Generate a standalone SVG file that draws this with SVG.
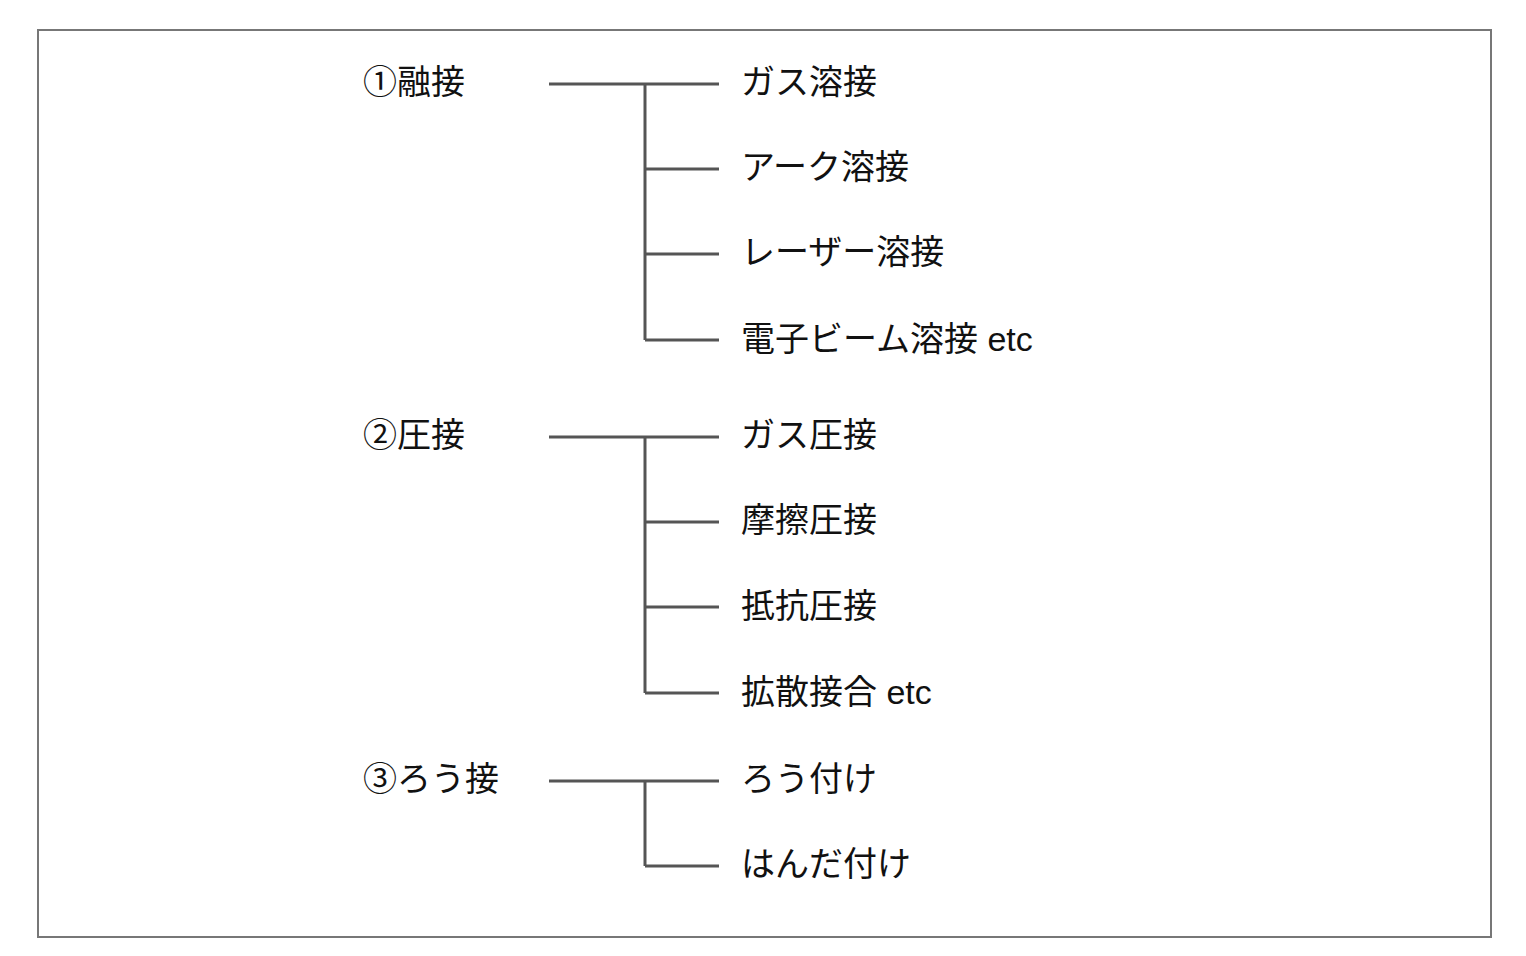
<svg xmlns="http://www.w3.org/2000/svg" width="1526" height="956" viewBox="0 0 1526 956">
<style>
text{font-family:"Liberation Sans","Noto Sans CJK JP",sans-serif;font-size:34px;fill:#111;dominant-baseline:central}
.c line{stroke:#555;stroke-width:3;fill:none}
</style>
<rect x="0" y="0" width="1526" height="956" fill="#fff"/>
<rect x="38" y="30" width="1453" height="907" fill="none" stroke="#777" stroke-width="2"/>
<g class="c" id="connectors">
<line x1="549" y1="84" x2="719" y2="84"/><line x1="645" y1="84" x2="645" y2="340"/>
<line x1="645" y1="169" x2="719" y2="169"/><line x1="645" y1="254" x2="719" y2="254"/><line x1="645" y1="340" x2="719" y2="340"/>
<line x1="549" y1="437" x2="719" y2="437"/><line x1="645" y1="437" x2="645" y2="693"/>
<line x1="645" y1="522" x2="719" y2="522"/><line x1="645" y1="607" x2="719" y2="607"/><line x1="645" y1="693" x2="719" y2="693"/>
<line x1="549" y1="781" x2="719" y2="781"/><line x1="645" y1="781" x2="645" y2="866"/><line x1="645" y1="866" x2="719" y2="866"/>
</g>
<g id="n1"><text x="363" y="82">①融接</text></g>
<g id="n1a"><text x="741" y="82">ガス溶接</text></g>
<g id="n1b"><text x="741" y="167">アーク溶接</text></g>
<g id="n1c"><text x="741" y="252">レーザー溶接</text></g>
<g id="n1d"><text x="741" y="339">電子ビーム溶接 etc</text></g>
<g id="n2"><text x="363" y="435">②圧接</text></g>
<g id="n2a"><text x="741" y="435">ガス圧接</text></g>
<g id="n2b"><text x="741" y="520">摩擦圧接</text></g>
<g id="n2c"><text x="741" y="606">抵抗圧接</text></g>
<g id="n2d"><text x="741" y="692">拡散接合 etc</text></g>
<g id="n3"><text x="363" y="779">③ろう接</text></g>
<g id="n3a"><text x="741" y="779">ろう付け</text></g>
<g id="n3b"><text x="741" y="864">はんだ付け</text></g>
</svg>
